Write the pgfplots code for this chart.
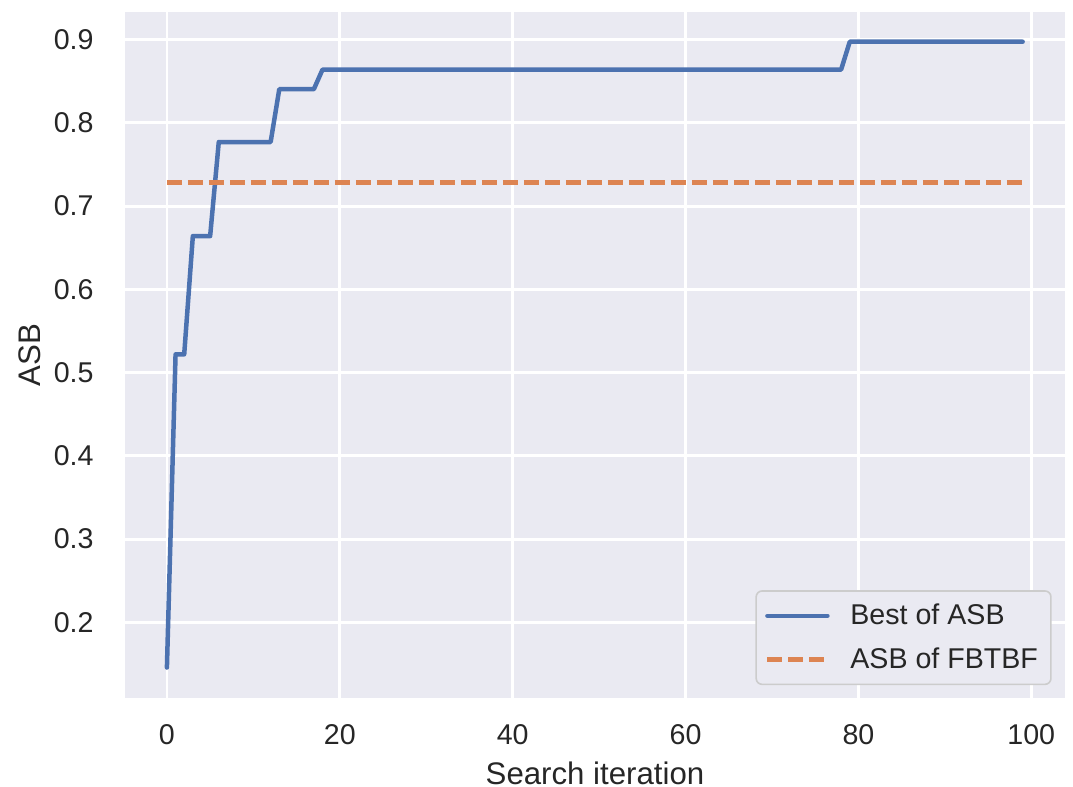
\documentclass[border=0pt]{standalone}
\usepackage{fontspec}
\setmainfont{Liberation Sans}
\usepackage{pgfplots}
\pgfplotsset{compat=1.18}
\definecolor{bgc}{HTML}{EAEAF2}
\definecolor{sblue}{HTML}{4C72B0}
\definecolor{sorange}{HTML}{DD8452}
\definecolor{txt}{HTML}{262626}
\begin{document}
\begin{tikzpicture}
\begin{axis}[
  name=ax,
  scale only axis,
  width=470pt, height=343pt,
  xmin=-4.85, xmax=103.9,
  ymin=0.1092, ymax=0.9332,
  axis background/.style={fill=bgc},
  axis line style={draw=none},
  major tick length=0pt,
  grid=major,
  major grid style={white, line width=1.4pt},
  xtick={0,20,40,60,80,100},
  ytick={0.2,0.3,0.4,0.5,0.6,0.7,0.8,0.9},
  yticklabel style={/pgf/number format/fixed,/pgf/number format/precision=1,/pgf/number format/fixed zerofill},
  /pgf/number format/assume math mode=true,
  tick label style={font=\fontsize{14.3}{17}\selectfont, text=txt},
  xticklabel style={yshift=-9.8pt},
  yticklabel style={xshift=-12.2pt},
  label style={font=\fontsize{15.6}{19}\selectfont, text=txt, inner sep=0pt},
  xlabel={Search iteration},
  ylabel={ASB},
  xlabel style={at={(axis description cs:0.5,-0.1258)}, anchor=base},
  ylabel style={at={(axis description cs:-0.0904,0.5)}, anchor=base},
  legend style={at={(0.9859,0.0187)}, anchor=south east, draw=black!20, fill=bgc, rounded corners=3pt,
    font=\fontsize{14.3}{17}\selectfont, text=txt, inner xsep=4.5pt, inner ysep=4.5pt, row sep=6pt,
    line width=0.8pt},
  legend cell align=left,
  legend image code/.code={\draw[#1] (0pt,0pt) -- (30pt,0pt); \path[draw=none] (0pt,0pt) -- (39.5pt,0pt);},
]
\addplot[sblue, line width=2.25pt, line join=round, line cap=round] coordinates {
 (0,0.1458) (1,0.522) (2,0.522) (3,0.664) (4,0.664) (5,0.664) (6,0.777) (12,0.777)
 (13,0.8405) (17,0.8405) (18,0.864) (78,0.864) (79,0.8975) (99,0.8975)
};
\addlegendentry{Best of ASB}
\addplot[sorange, line width=2.25pt, dash pattern=on 7.4pt off 3.1pt] coordinates {
 (0,0.7286) (99,0.7286)
};
\addlegendentry{ASB of FBTBF}
\end{axis}
\pgfresetboundingbox
\path ([shift={(-62.5pt,-44.5pt)}]ax.south west) rectangle ([shift={(4pt,6pt)}]ax.north east);
\end{tikzpicture}
\end{document}
